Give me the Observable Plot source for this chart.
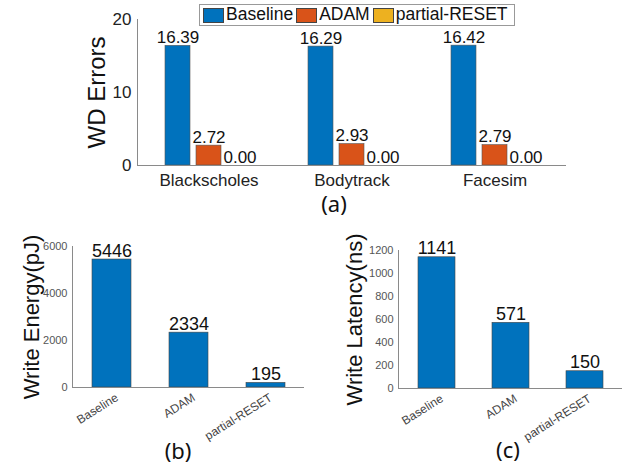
<!DOCTYPE html>
<html>
<head>
<meta charset="utf-8">
<script src="https://cdn.jsdelivr.net/npm/d3@7"></script>
<script src="https://cdn.jsdelivr.net/npm/@observablehq/plot@0.6"></script>
<style>
  html, body { margin: 0; padding: 0; background: #fff; }
  #root { position: relative; width: 626px; height: 466px; overflow: hidden;
          font-family: "Liberation Sans", Arial, sans-serif; color: #222; }
  .panel { position: absolute; }
  .panel svg { overflow: visible; }
  .cap { position: absolute; font-family: "Noto Sans", sans-serif; font-style: normal; font-size: 22px;
         line-height: 1; transform: translate(-50%, -50%); color: #111; }
  #legend { position: absolute; left: 199px; top: 4px; width: 314px; height: 20px;
            border: 1px solid #999; background: #fff; display: flex; align-items: center;
            font-size: 17.5px; line-height: 1; color: #111; }
  #legend .sw { display: inline-block; width: 21px; height: 15px; border: 1px solid #444;
                margin: 0 2px 0 3px; box-sizing: border-box; }
</style>
</head>
<body>
<div id="root"></div>
<script>
// ---------- data ----------
const benchmarks = ["Blackscholes", "Bodytrack", "Facesim"];
const schemes = ["Baseline", "ADAM", "partial-RESET"];
const wdBaseline = [16.39, 16.29, 16.42];
const wdADAM = [2.72, 2.93, 2.79];
const wdPartialReset = [0.00, 0.00, 0.00];
const energyValues = [5446, 2334, 195];
const latencyValues = [1141, 571, 150];
const wdTicks = [0, 10, 20];
const energyTicks = [0, 2000, 4000, 6000];
const latencyTicks = [0, 200, 400, 600, 800, 1000, 1200];
const seriesColors = ["#0072BD", "#D95319", "#EDB120"];

const root = document.getElementById("root");
const axisGray = "#8a8a8a";

// ---------- (a) grouped bars ----------
const wdSeries = [wdBaseline, wdADAM, wdPartialReset];
const tableA = benchmarks.flatMap((b, i) =>
  schemes.map((s, j) => ({bench: b, scheme: s, value: wdSeries[j][i]})));

const plotA = Plot.plot({
  width: 626, height: 200,
  marginLeft: 136, marginRight: 60, marginTop: 19, marginBottom: 35,
  style: {fontFamily: "Liberation Sans, Arial, sans-serif", color: "#222", background: "transparent", overflow: "visible"},
  fx: {domain: benchmarks, padding: 0, label: null, axis: null},
  x: {domain: schemes, paddingInner: 0.1875, paddingOuter: 0.83, axis: null},
  y: {domain: [0, 20], axis: null},
  color: {domain: schemes, range: seriesColors},
  marks: [
    Plot.barY(tableA, {fx: "bench", x: "scheme", y: "value", fill: "scheme", stroke: "#555", strokeWidth: 0.6}),
    Plot.text(tableA, {fx: "bench", x: "scheme", y: "value", text: d => d.value.toFixed(2),
      lineAnchor: "bottom", dy: -3, fontSize: 17, fill: "#111"}),
    Plot.ruleY([0], {stroke: axisGray}),
    Plot.frame({anchor: "left", stroke: axisGray, facet: "super"}),
    Plot.axisY({ticks: wdTicks, tickSize: 0, tickPadding: 6, fontSize: 17, label: null}),
    Plot.axisFx({anchor: "bottom", tickSize: 0, tickPadding: 8, fontSize: 17, label: null}),
    Plot.text(["WD Errors"], {frameAnchor: "left", rotate: -90, dx: -40, fontSize: 24,
      lineAnchor: "middle", textAnchor: "middle", fill: "#111", facet: "super"})
  ]
});
const pa = document.createElement("div");
pa.className = "panel"; pa.style.left = "0px"; pa.style.top = "0px";
pa.appendChild(plotA);
root.appendChild(pa);

// legend
const legend = document.createElement("div");
legend.id = "legend";
schemes.forEach((s, j) => {
  const sw = document.createElement("span");
  sw.className = "sw"; sw.style.background = seriesColors[j];
  const t = document.createElement("span"); t.textContent = s;
  legend.appendChild(sw); legend.appendChild(t);
});
root.appendChild(legend);

// ---------- (b) and (c) single bars ----------
function singleBars(values, ticks, title, m, titleDx) {
  const table = schemes.map((s, i) => ({scheme: s, value: values[i]}));
  return Plot.plot({
    width: 313, height: 230,
    marginLeft: m.left, marginRight: m.right, marginTop: m.top, marginBottom: m.bottom,
    style: {fontFamily: "Liberation Sans, Arial, sans-serif", color: "#222", background: "transparent", overflow: "visible"},
    x: {domain: schemes, paddingInner: 0.5, paddingOuter: 0.25, axis: null},
    y: {domain: [ticks[0], ticks[ticks.length - 1]], axis: null},
    marks: [
      Plot.barY(table, {x: "scheme", y: "value", fill: seriesColors[0], stroke: "#444", strokeWidth: 0.6}),
      Plot.text(table, {x: "scheme", y: "value", text: d => String(d.value),
        lineAnchor: "bottom", dy: -3, fontSize: 18, fill: "#111"}),
      Plot.ruleY([0], {stroke: axisGray}),
      Plot.frame({anchor: "left", stroke: axisGray}),
      Plot.axisY({ticks, tickFormat: d => String(d), tickSize: 0, tickPadding: 5, fontSize: 11, fill: "#555", label: null}),
      Plot.axisX({tickRotate: -32, tickSize: 0, tickPadding: 9, dx: 5, fontSize: 12, fill: "#444", label: null}),
      Plot.text([title], {frameAnchor: "left", rotate: -90, dx: titleDx, fontSize: 22,
        lineAnchor: "middle", textAnchor: "middle", fill: "#111"})
    ]
  });
}

const plotB = singleBars(energyValues, energyTicks, "Write Energy(pJ)",
  {left: 72, right: 9, top: 26, bottom: 63}, -41);
const pb = document.createElement("div");
pb.className = "panel"; pb.style.left = "0px"; pb.style.top = "220px";
pb.appendChild(plotB);
root.appendChild(pb);

const plotC = singleBars(latencyValues, latencyTicks, "Write Latency(ns)",
  {left: 85, right: 4, top: 30, bottom: 62}, -44);
const pc = document.createElement("div");
pc.className = "panel"; pc.style.left = "313px"; pc.style.top = "220px";
pc.appendChild(plotC);
root.appendChild(pc);

// captions
[["(a)", 334, 203], ["(b)", 178, 450], ["(c)", 508, 449]].forEach(([t, x, y]) => {
  const c = document.createElement("div");
  c.className = "cap"; c.textContent = t;
  c.style.left = x + "px"; c.style.top = y + "px";
  root.appendChild(c);
});
</script>
</body>
</html>
